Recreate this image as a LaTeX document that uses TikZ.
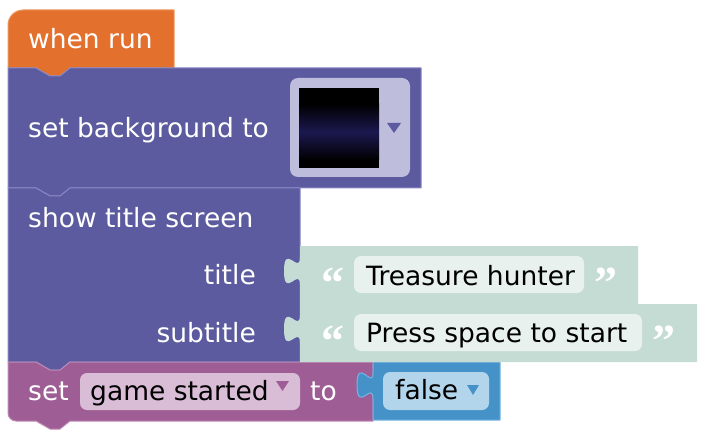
\documentclass[tikz,border=0pt]{standalone}
\usepackage{fontspec}
\setmainfont{DejaVu Sans}
\newfontfamily\quotefont{Liberation Serif}
\definecolor{orangeC}{HTML}{E3702D}
\definecolor{orangeS}{HTML}{EC9A63}
\definecolor{purpleC}{HTML}{5C5B9F}
\definecolor{purpleS}{HTML}{8886C4}
\definecolor{magentaC}{HTML}{9E5D94}
\definecolor{magentaS}{HTML}{BE8BB6}
\definecolor{blueC}{HTML}{4492C8}
\definecolor{blueS}{HTML}{76B5E2}
\definecolor{greenC}{HTML}{C4DCD3}
\definecolor{greenF}{HTML}{E8F1ED}
\definecolor{imgF}{HTML}{BEBDDC}
\definecolor{magF}{HTML}{D9BDD6}
\definecolor{blueF}{HTML}{B3D5EC}
\definecolor{navy}{HTML}{1B184F}
\begin{document}
\begin{tikzpicture}[x=1pt,y=-1pt,
  lbl/.style={text=white, inner sep=0pt, font=\fontsize{26.5}{30}\selectfont},
  fldtxt/.style={text=black, inner sep=0pt, font=\fontsize{26.5}{30}\selectfont},
  qt/.style={text=white, inner sep=0pt, font=\quotefont\bfseries\fontsize{46}{50}\selectfont},
  blk/.style={line width=1pt, line join=round}]
\useasboundingbox (0,0) rectangle (708,446);

% orange hat block
\path[blk, draw=orangeS, fill=orangeC] (8,68) -- (8,25) arc[start angle=180, end angle=270, radius=15]
  -- (174,10) -- (174,68) -- (70,68) -- (60,76) -- (50,76) -- (36,68) -- cycle;

% set background block
\path[blk, draw=purpleS, fill=purpleC] (8,68) -- (36,68) -- (50,76) -- (60,76) -- (70,68) -- (421,68)
  -- (421,188) -- (70,188) -- (60,196) -- (50,196) -- (36,188) -- (8,188) -- cycle;

% show title screen block
\path[blk, draw=purpleS, fill=purpleC] (8,188) -- (36,188) -- (50,196) -- (60,196) -- (70,188) -- (300,188)
  -- (300,362) -- (70,362) -- (60,370) -- (50,370) -- (36,362) -- (8,362) -- cycle;

% set variable block
\path[blk, draw=magentaS, fill=magentaC] (8,362) -- (36,362) -- (50,370) -- (60,370) -- (70,362) -- (373,362)
  -- (373,421) -- (70,421) -- (60,429) -- (50,429) -- (36,421) -- (16,421)
  arc[start angle=90, end angle=180, radius=8] -- cycle;

% false block
\path[blk, draw=blueS, fill=blueC] (373,362) -- (500,362) -- (500,420) -- (373,420) -- (373,399)
  .. controls (373,380) and (357,414) .. (357,385) .. controls (357,356) and (373,390) .. (373,373) -- cycle;

% text blocks
\path[fill=greenC] (300,246) -- (638,246) -- (638,304) -- (300,304) -- (300,285)
  .. controls (300,266) and (284,300) .. (284,271) .. controls (284,242) and (300,276) .. (300,257) -- cycle;
\path[fill=greenC] (300,304) -- (697,304) -- (697,362) -- (300,362) -- (300,343)
  .. controls (300,324) and (284,358) .. (284,329) .. controls (284,300) and (300,334) .. (300,315) -- cycle;

% fields
\fill[imgF, rounded corners=8pt] (290,78) rectangle (410,177);
\fill[black] (299,88) rectangle (379,168);
\shade[top color=black, bottom color=black, middle color=navy] (299,104) rectangle (379,160);
\fill[purpleC] (387,123) -- (401,123) -- (394,133) -- cycle;

\fill[greenF, rounded corners=7pt] (354,256) rectangle (584,293);
\fill[greenF, rounded corners=7pt] (354,314) rectangle (642,351);

\fill[magF, rounded corners=7pt] (80,373) rectangle (300,410);
\fill[magentaC] (276,381) -- (289,381) -- (282.5,391) -- cycle;

\fill[blueF, rounded corners=7pt] (383,372) rectangle (489,410);
\fill[blueC] (467,385) -- (479,385) -- (473,395) -- cycle;

% labels
\node[lbl, anchor=base west] (whenrun) at (28,49) {when run};
\node[lbl, anchor=base west] (setbg) at (28,138) {set background to};
\node[lbl, anchor=base west] (showts) at (28,227) {show title screen};
\node[lbl, anchor=base east] (titlelbl) at (256,284) {title};
\node[lbl, anchor=base east] (subtitlelbl) at (256,342) {subtitle};
\node[lbl, anchor=base west] (setlbl) at (28,400) {set};
\node[lbl, anchor=base west] (tolbl) at (310,400) {to};

\node[fldtxt, anchor=base west] (treasure) at (366,285) {Treasure hunter};
\node[fldtxt, anchor=base west] (press) at (366,342) {Press space to start};
\node[fldtxt, anchor=base west] (gamestarted) at (90,400) {game started};
\node[fldtxt, anchor=base west] (falsetxt) at (395,399) {false};

\node[qt, anchor=base] (q1l) at (333,298) {“};
\node[qt, anchor=base] (q1r) at (606,298) {”};
\node[qt, anchor=base] (q2l) at (333,356) {“};
\node[qt, anchor=base] (q2r) at (664,356) {”};
\end{tikzpicture}
\end{document}
